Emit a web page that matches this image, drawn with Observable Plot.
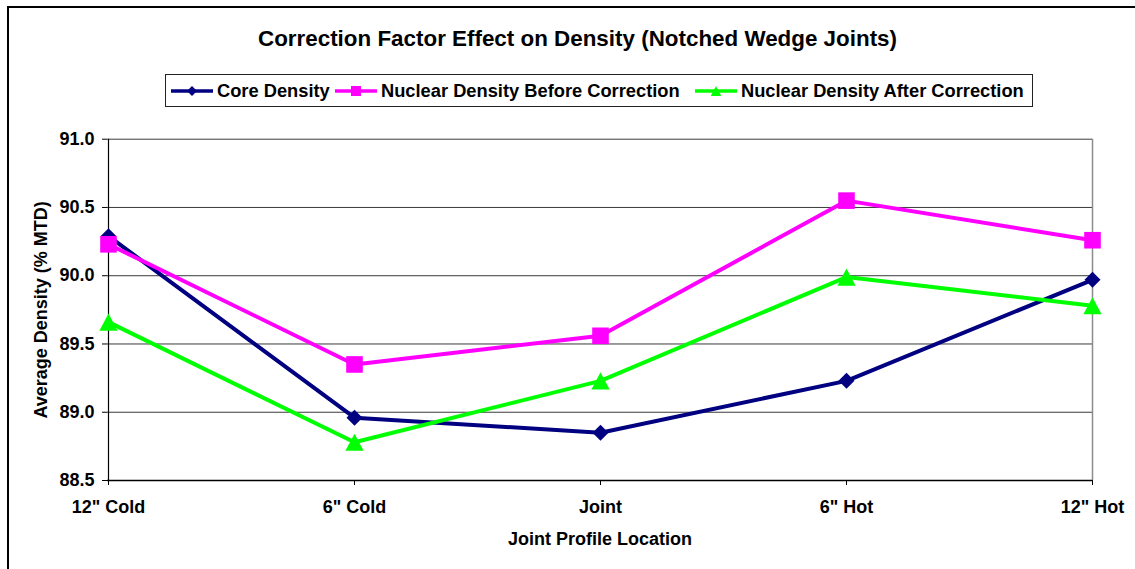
<!DOCTYPE html>
<html>
<head>
<meta charset="utf-8">
<script src="https://cdn.jsdelivr.net/npm/d3@7"></script>
<script src="https://cdn.jsdelivr.net/npm/@observablehq/plot@0.6"></script>
<style>
  html, body { margin: 0; padding: 0; background: #fff; }
  #wrap { position: relative; width: 1135px; height: 569px; overflow: hidden; background: #fff;
          font-family: "Liberation Sans", Arial, sans-serif; font-weight: bold; color: #000; }
  #header { position: relative; height: 120px; }
  #title { position: absolute; left: 0; top: 28px; width: 1155px; text-align: center; font-size: 22.4px; line-height: 1; white-space: nowrap; }
  #legend { position: absolute; left: 165px; top: 74px; width: 866px; height: 31px; border: 1px solid #222; box-sizing: content-box; }
  .item { position: absolute; top: 0; height: 31px; display: flex; align-items: center; font-size: 18.3px; white-space: nowrap; }
  .item svg { margin-right: 4px; }
  #frame { position: absolute; left: 7px; top: 6px; width: 1200px; height: 700px; border-left: 2px solid #000; border-top: 2px solid #000; pointer-events: none; }
  #chart svg { display: block; }
</style>
</head>
<body>
<div id="wrap">
  <div id="header">
    <div id="title"></div>
    <div id="legend"></div>
  </div>
  <div id="chart"></div>
  <div id="frame"></div>
</div>
<script>
// ---- data ----
const categories = ['12" Cold', '6" Cold', 'Joint', '6" Hot', '12" Hot'];
const coreDensity = [90.29, 88.96, 88.85, 89.23, 89.97];
const nuclearBefore = [90.23, 89.35, 89.56, 90.55, 90.26];
const nuclearAfter = [89.66, 88.78, 89.23, 89.99, 89.78];
const seriesNames = ["Core Density", "Nuclear Density Before Correction", "Nuclear Density After Correction"];
const yTicks = [88.5, 89.0, 89.5, 90.0, 90.5, 91.0];
const titleText = "Correction Factor Effect on Density (Notched Wedge Joints)";
const xTitle = "Joint Profile Location";
const yTitle = "Average Density (% MTD)";

// ---- styling ----
const colors = ["#000080", "#FF00FF", "#00FF00"];
const legendLefts = [5, 169, 529];

const diamond = { draw(ctx, size) { const r = Math.sqrt(size / Math.PI); ctx.moveTo(0, -r); ctx.lineTo(r, 0); ctx.lineTo(0, r); ctx.lineTo(-r, 0); ctx.closePath(); } };
const square = { draw(ctx, size) { const r = Math.sqrt(size / Math.PI); ctx.rect(-r, -r, 2 * r, 2 * r); } };
const triangle = { draw(ctx, size) { const r = Math.sqrt(size / Math.PI); ctx.moveTo(0, -r); ctx.lineTo(r * 1.06, r); ctx.lineTo(-r * 1.06, r); ctx.closePath(); } };
const symbols = [diamond, square, triangle];
const radii = [8, 8.3, 8.6];

const seriesValues = [coreDensity, nuclearBefore, nuclearAfter];
const rows = seriesValues.map((vals, s) => categories.map((c, i) => ({ series: seriesNames[s], cat: c, value: vals[i] })));

// ---- title ----
document.getElementById("title").textContent = titleText;

// ---- legend ----
const legend = document.getElementById("legend");
seriesNames.forEach((name, s) => {
  const item = document.createElement("div");
  item.className = "item";
  item.style.left = legendLefts[s] + "px";
  const sw = d3.create("svg").attr("width", 42).attr("height", 14);
  sw.append("line").attr("x1", 0).attr("x2", 42).attr("y1", 7).attr("y2", 7).attr("stroke", colors[s]).attr("stroke-width", 3.5);
  const path = d3.path();
  const r = 5;
  symbols[s].draw(path, Math.PI * r * r);
  sw.append("path").attr("d", path.toString()).attr("transform", "translate(21,7)").attr("fill", colors[s]);
  item.appendChild(sw.node());
  const t = document.createElement("span");
  t.textContent = name;
  item.appendChild(t);
  legend.appendChild(item);
});

// ---- chart ----
const marks = [
  Plot.gridY(yTicks.slice(1), { stroke: "#3a3a3a", strokeOpacity: 1, strokeWidth: 1 }),
  Plot.ruleX([categories[categories.length - 1]], { stroke: "#8c8c8c", strokeWidth: 1.5 }),
  Plot.axisY({ ticks: yTicks, tickFormat: d3.format(".1f"), tickSize: 5, tickPadding: 8, label: null, fontSize: 18 }),
  Plot.axisX({ tickSize: 5, tickPadding: 15, label: null, fontSize: 18 }),
  Plot.ruleX([categories[0]], { stroke: "#000", strokeWidth: 1.2 }),
  Plot.ruleY([yTicks[0]], { stroke: "#000", strokeWidth: 1.5 }),
  Plot.text([xTitle], { frameAnchor: "bottom", textAnchor: "middle", lineAnchor: "middle", dy: 59, fontSize: 18, fontWeight: "bold" }),
  Plot.text([yTitle], { frameAnchor: "left", textAnchor: "middle", lineAnchor: "middle", rotate: -90, dx: -66, fontSize: 18, fontWeight: "bold" })
];
rows.forEach((data, s) => {
  marks.push(Plot.line(data, { x: "cat", y: "value", stroke: colors[s], strokeWidth: 4, strokeLinejoin: "round" }));
  marks.push(Plot.dot(data, { x: "cat", y: "value", symbol: symbols[s], r: radii[s], fill: colors[s], stroke: "none" }));
});

const chart = Plot.plot({
  width: 1135,
  height: 449,
  marginLeft: 107,
  marginRight: 43,
  marginTop: 18.7,
  marginBottom: 89,
  style: { fontFamily: "'Liberation Sans', Arial, sans-serif", fontWeight: "bold", fontSize: "18px", color: "#000", background: "transparent", overflow: "visible" },
  x: { type: "point", domain: categories, padding: 0 },
  y: { domain: [88.5, 91.0] },
  marks
});
document.getElementById("chart").appendChild(chart);
</script>
</body>
</html>
